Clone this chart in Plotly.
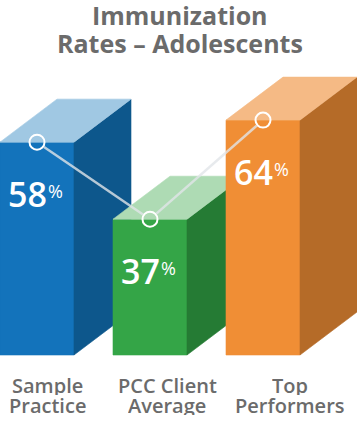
import plotly.graph_objects as go

# ---------------- data ----------------
categories_line1 = ["Sample", "PCC Client", "Top"]
categories_line2 = ["Practice", "Average", "Performers"]
values = [58, 37, 64]
title_lines = ["Immunization", "Rates \u2013 Adolescents"]

# ---------------- styles ----------------
FRONT = ["#1373BB", "#34A547", "#F08E35"]
SIDE = ["#0D578C", "#257B34", "#B56B28"]
TOP = ["#A0C8E3", "#AEDBB4", "#F5BA85"]
TEXT_GRAY = "#6B6B6B"
FONT = "Open Sans"

# ---------------- layout geometry ----------------
FIG_W, FIG_H = 357, 421
BASE_PX = 355          # pixel row of value 0
PX_PER_UNIT = 3.67     # pixels per percentage point
Y_MIN = (BASE_PX - FIG_H) / PX_PER_UNIT
Y_MAX = BASE_PX / PX_PER_UNIT
BAR_LEFT0, BAR_STEP, BAR_W = 0, 113, 74
DEPTH_X = 57
DEPTH_Y = 43 / PX_PER_UNIT
LABEL_X = [47, 167, 290]
MARKER_R_PX = 8.5


def px2y(py):
    return (BASE_PX - py) / PX_PER_UNIT


fig = go.Figure()

centers = []
for i, v in enumerate(values):
    L = BAR_LEFT0 + i * BAR_STEP
    R = L + BAR_W
    centers.append(L + BAR_W / 2)
    faces = [
        ([L, R, R, L, L], [0, 0, v, v, 0], FRONT[i]),
        ([R, R + DEPTH_X, R + DEPTH_X, R, R], [0, DEPTH_Y, v + DEPTH_Y, v, 0], SIDE[i]),
        ([L, R, R + DEPTH_X, L + DEPTH_X, L], [v, v, v + DEPTH_Y, v + DEPTH_Y, v], TOP[i]),
    ]
    for xs, ys, col in faces:
        fig.add_trace(go.Scatter(
            x=xs, y=ys, mode="lines", fill="toself", fillcolor=col,
            line=dict(color=col, width=0.6), hoverinfo="skip", showlegend=False))

# connecting line trimmed at circle edges (computed in pixel space)
lx, ly = [], []
for i in range(len(values) - 1):
    x1, y1 = centers[i], values[i] * PX_PER_UNIT
    x2, y2 = centers[i + 1], values[i + 1] * PX_PER_UNIT
    dx, dy = x2 - x1, y2 - y1
    d = (dx ** 2 + dy ** 2) ** 0.5
    ux, uy = dx / d, dy / d
    r = MARKER_R_PX
    lx += [x1 + ux * r, x2 - ux * r, None]
    ly += [(y1 + uy * r) / PX_PER_UNIT, (y2 - uy * r) / PX_PER_UNIT, None]
fig.add_trace(go.Scatter(x=lx, y=ly, mode="lines",
                         line=dict(color="rgba(225,229,232,0.8)", width=2.5),
                         hoverinfo="skip", showlegend=False))
fig.add_trace(go.Scatter(x=centers, y=values, mode="markers",
                         marker=dict(symbol="circle", size=15, color="rgba(0,0,0,0)",
                                     line=dict(color="white", width=2)),
                         hoverinfo="skip", showlegend=False))

annotations = []
# value labels
for i, v in enumerate(values):
    cx = centers[i]
    annotations.append(dict(x=cx + 12, y=v - 14, xref="x", yref="y", text=str(v),
                            xanchor="right", yanchor="middle", showarrow=False,
                            font=dict(family=FONT, size=34, color="white", weight=600)))
    annotations.append(dict(x=cx + 9, y=v - 14 + 3.0 / PX_PER_UNIT, xref="x", yref="y", text="%",
                            xanchor="left", yanchor="middle", showarrow=False,
                            font=dict(family=FONT, size=18, color="white", weight=500)))
# category labels (two lines, tight line pitch as in the original)
for i in range(len(values)):
    annotations.append(dict(x=LABEL_X[i], y=px2y(385), xref="x", yref="y",
                            text=categories_line1[i], showarrow=False,
                            xanchor="center", yanchor="middle", height=19,
                            font=dict(family=FONT, size=20, color=TEXT_GRAY, weight=600)))
    annotations.append(dict(x=LABEL_X[i], y=px2y(405), xref="x", yref="y",
                            text=categories_line2[i], showarrow=False,
                            xanchor="center", yanchor="middle", height=19,
                            font=dict(family=FONT, size=20, color=TEXT_GRAY, weight=600)))
# title
for j, (t, py) in enumerate(zip(title_lines, [14, 42])):
    annotations.append(dict(x=180, y=px2y(py), xref="x", yref="y", text=t,
                            showarrow=False, xanchor="center", yanchor="middle", height=25,
                            font=dict(family=FONT, size=25, color=TEXT_GRAY, weight=700)))

fig.update_layout(
    width=FIG_W, height=FIG_H,
    margin=dict(l=0, r=0, t=0, b=0),
    paper_bgcolor="white", plot_bgcolor="white",
    xaxis=dict(range=[0, FIG_W], visible=False, fixedrange=True),
    yaxis=dict(range=[Y_MIN, Y_MAX], visible=False, fixedrange=True),
    annotations=annotations,
    showlegend=False,
)

fig.write_html("out.html", config={"displayModeBar": False},
               post_script="document.body.style.margin='0';document.body.style.overflow='hidden';")
